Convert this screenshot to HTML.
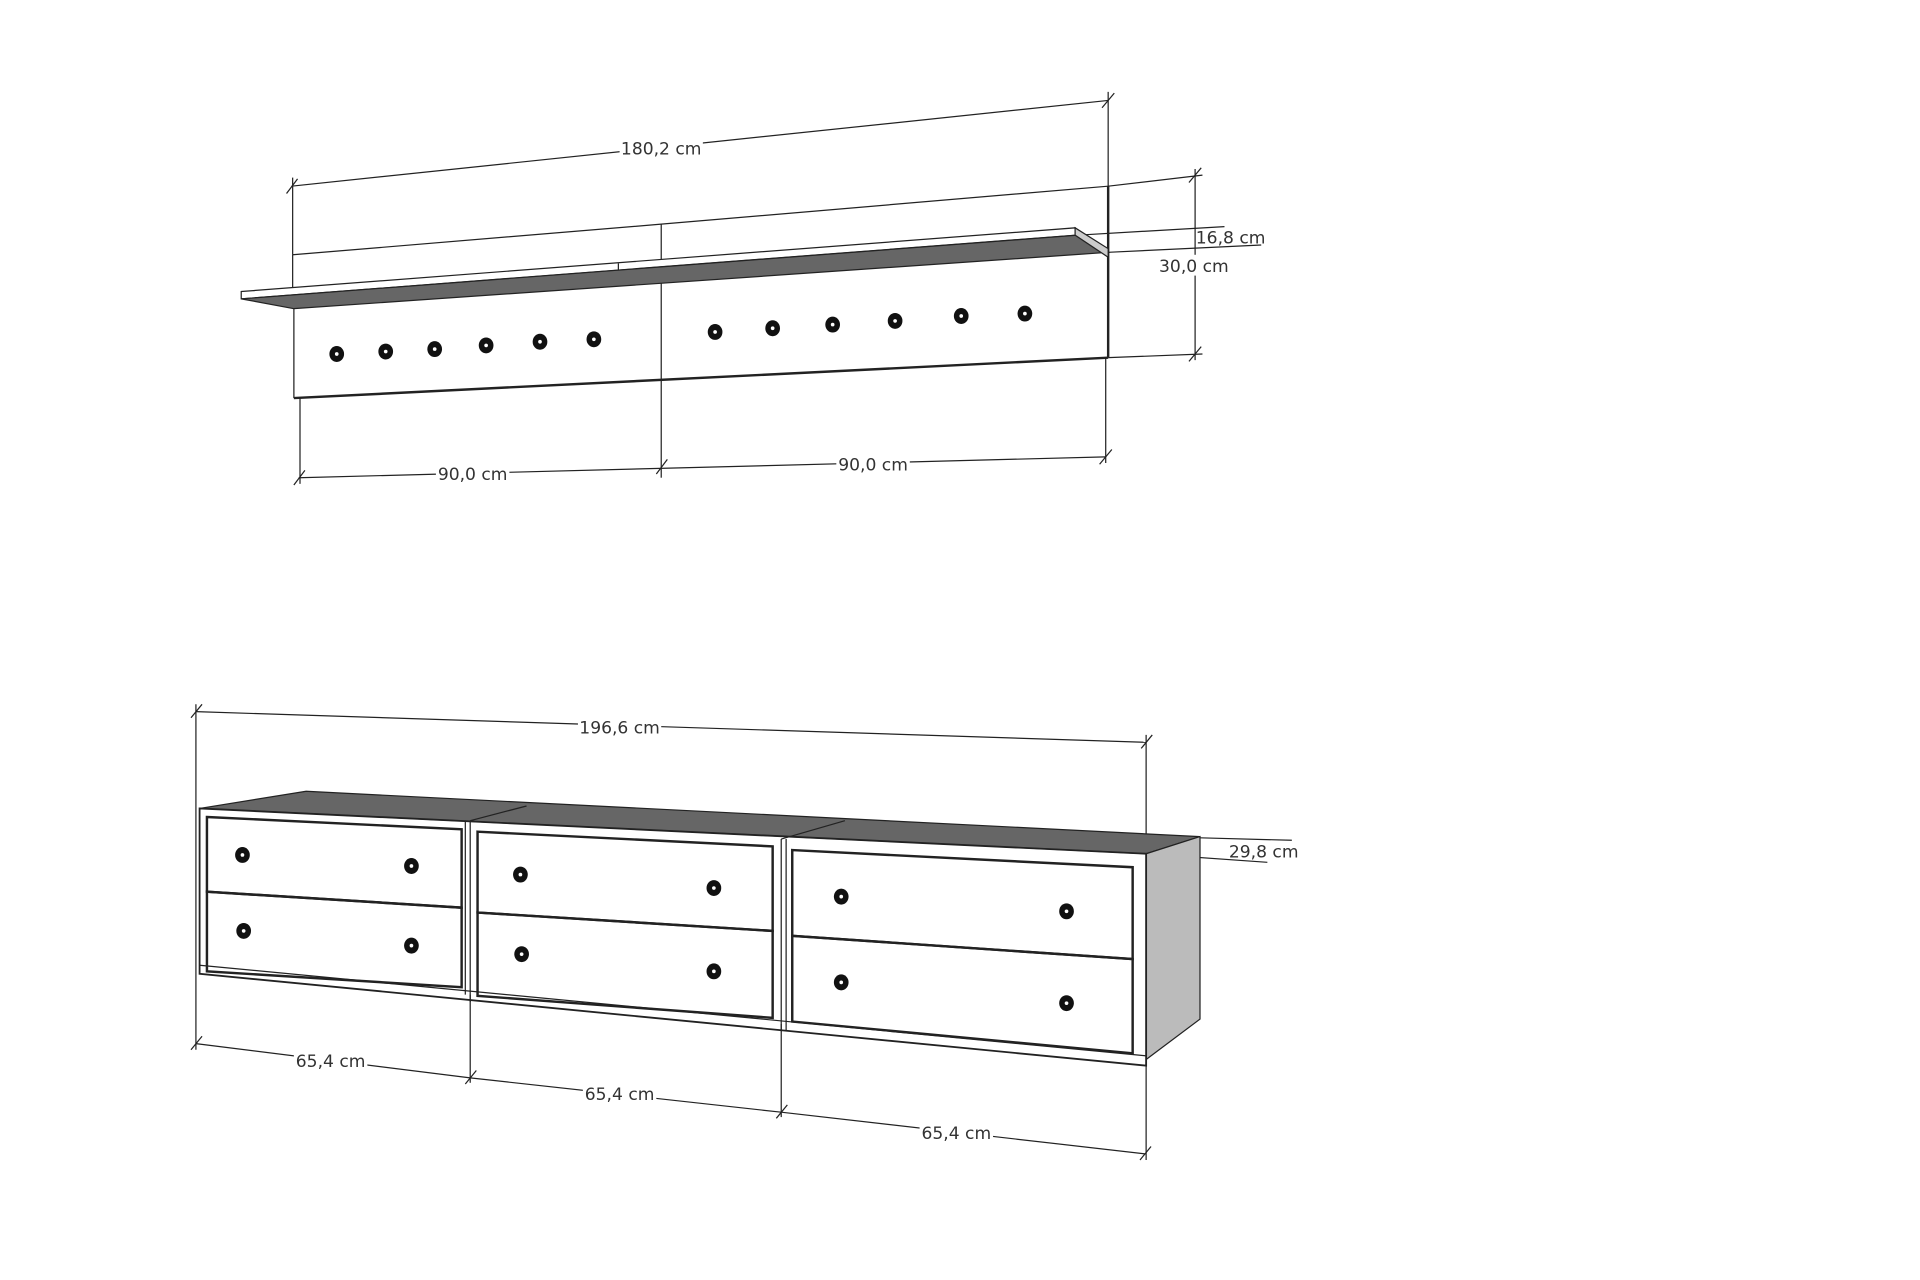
<!DOCTYPE html>
<html><head><meta charset="utf-8"><style>
html,body{margin:0;padding:0;background:#fff;width:1920px;height:1280px;overflow:hidden}
svg{display:block}
text{font-family:"DejaVu Sans","Liberation Sans",sans-serif;font-size:14px;fill:#333}
</style></head><body>
<svg width="1920" height="1280" viewBox="0 0 1568 1045" preserveAspectRatio="none">
<g stroke="#222" stroke-width="1" fill="none">
<line x1="238" y1="152" x2="905" y2="82"/>
<line x1="239" y1="145" x2="239" y2="208"/>
<line x1="905" y1="75" x2="905" y2="152"/>
<line x1="234" y1="158" x2="243" y2="146"/><line x1="900" y1="88" x2="910" y2="76"/>
<line x1="905" y1="152" x2="982" y2="143"/>
<line x1="905" y1="292" x2="982" y2="289"/>
<line x1="976" y1="138" x2="976" y2="294"/>
<line x1="971" y1="149" x2="981" y2="137"/><line x1="971" y1="295" x2="981" y2="283"/>
<line x1="880" y1="192" x2="1000" y2="185"/>
<line x1="905" y1="206" x2="1030" y2="200"/>
<line x1="245" y1="325" x2="245" y2="395"/>
<line x1="540" y1="310" x2="540" y2="390"/>
<line x1="903" y1="292" x2="903" y2="378"/>
<line x1="244" y1="390" x2="903" y2="373"/>
<line x1="240" y1="396" x2="249" y2="384"/><line x1="536" y1="387" x2="545" y2="375"/><line x1="898" y1="379" x2="908" y2="367"/>
<polyline points="239,208 540,183 905,152"/>
<line x1="239" y1="208" x2="239" y2="238" />
<line x1="240" y1="252" x2="240" y2="325"/>
<line x1="240" y1="325" x2="905" y2="292" stroke-width="2"/>
<line x1="540" y1="183" x2="540" y2="310"/>
<line x1="905" y1="152" x2="905" y2="292" stroke-width="2"/>
<polygon points="197,238 878,186 878,192 197,244" fill="#fff"/>
<line x1="505" y1="215" x2="505" y2="224"/>
<polygon points="197,244 240,252 905,206 880,192" fill="#666"/>
<polygon points="878,186 905,203 905,210 878,192" fill="#ccc"/>
<line x1="160" y1="581" x2="936" y2="606"/>
<line x1="160" y1="575" x2="160" y2="857"/>
<line x1="936" y1="600" x2="936" y2="947"/>
<line x1="156" y1="586" x2="165" y2="575"/><line x1="932" y1="611" x2="941" y2="600"/>
<line x1="160" y1="852" x2="384" y2="880"/>
<line x1="384" y1="880" x2="638" y2="908"/>
<line x1="638" y1="908" x2="935" y2="942"/>
<line x1="384" y1="812" x2="384" y2="884"/>
<line x1="638" y1="836" x2="638" y2="912"/>
<line x1="156" y1="857" x2="165" y2="846"/><line x1="380" y1="885" x2="389" y2="874"/><line x1="634" y1="913" x2="643" y2="902"/><line x1="931" y1="947" x2="940" y2="936"/>
<line x1="980" y1="684" x2="1055" y2="686"/>
<line x1="936" y1="697" x2="1035" y2="704"/>
<polygon points="163,660 250,646 980,683 936,697" fill="#666"/>
<line x1="384" y1="670" x2="430" y2="658"/>
<line x1="638" y1="685" x2="690" y2="670"/>
<polygon points="936,697 980,683 980,832 936,865" fill="#bbb"/>
<polygon points="163,660 936,697 936,870 163,795" fill="none" stroke-width="1.5"/>
<line x1="163" y1="788" x2="936" y2="862"/>
<line x1="384" y1="670" x2="384" y2="818"/>
<line x1="638" y1="685" x2="638" y2="842"/>
<line x1="380" y1="670" x2="380" y2="812"/><line x1="642" y1="685" x2="642" y2="842"/>
<g stroke-width="2">
<polygon points="169,667 377,677 377,741 169,728"/>
<polygon points="169,728 377,741 377,806 169,793"/>
<polygon points="390,679 631,691 631,760 390,745"/>
<polygon points="390,745 631,760 631,831 390,813"/>
<polygon points="647,694 925,708 925,783 647,764"/>
<polygon points="647,764 925,783 925,860 647,834"/>
</g>
</g>
<g fill="#111" stroke="none">
<ellipse cx="275" cy="289" rx="6" ry="6.5"/><ellipse cx="315" cy="287" rx="6" ry="6.5"/><ellipse cx="355" cy="285" rx="6" ry="6.5"/><ellipse cx="397" cy="282" rx="6" ry="6.5"/><ellipse cx="441" cy="279" rx="6" ry="6.5"/><ellipse cx="485" cy="277" rx="6" ry="6.5"/>
<ellipse cx="584" cy="271" rx="6" ry="6.5"/><ellipse cx="631" cy="268" rx="6" ry="6.5"/><ellipse cx="680" cy="265" rx="6" ry="6.5"/><ellipse cx="731" cy="262" rx="6" ry="6.5"/><ellipse cx="785" cy="258" rx="6" ry="6.5"/><ellipse cx="837" cy="256" rx="6" ry="6.5"/>
<ellipse cx="198" cy="698" rx="6" ry="6.5"/><ellipse cx="336" cy="707" rx="6" ry="6.5"/><ellipse cx="199" cy="760" rx="6" ry="6.5"/><ellipse cx="336" cy="772" rx="6" ry="6.5"/>
<ellipse cx="425" cy="714" rx="6" ry="6.5"/><ellipse cx="583" cy="725" rx="6" ry="6.5"/><ellipse cx="426" cy="779" rx="6" ry="6.5"/><ellipse cx="583" cy="793" rx="6" ry="6.5"/>
<ellipse cx="687" cy="732" rx="6" ry="6.5"/><ellipse cx="871" cy="744" rx="6" ry="6.5"/><ellipse cx="687" cy="802" rx="6" ry="6.5"/><ellipse cx="871" cy="819" rx="6" ry="6.5"/>
</g>
<g fill="#fff">
<circle cx="275" cy="289" r="1.5"/><circle cx="315" cy="287" r="1.5"/><circle cx="355" cy="285" r="1.5"/><circle cx="397" cy="282" r="1.5"/><circle cx="441" cy="279" r="1.5"/><circle cx="485" cy="277" r="1.5"/>
<circle cx="584" cy="271" r="1.5"/><circle cx="631" cy="268" r="1.5"/><circle cx="680" cy="265" r="1.5"/><circle cx="731" cy="262" r="1.5"/><circle cx="785" cy="258" r="1.5"/><circle cx="837" cy="256" r="1.5"/>
<circle cx="198" cy="698" r="1.5"/><circle cx="336" cy="707" r="1.5"/><circle cx="199" cy="760" r="1.5"/><circle cx="336" cy="772" r="1.5"/>
<circle cx="425" cy="714" r="1.5"/><circle cx="583" cy="725" r="1.5"/><circle cx="426" cy="779" r="1.5"/><circle cx="583" cy="793" r="1.5"/>
<circle cx="687" cy="732" r="1.5"/><circle cx="871" cy="744" r="1.5"/><circle cx="687" cy="802" r="1.5"/><circle cx="871" cy="819" r="1.5"/>
</g>
<g>
<rect x="506" y="112" width="68" height="17" fill="#fff"/><text x="540" y="126" text-anchor="middle">180,2 cm</text>
<rect x="946" y="208" width="60" height="17" fill="#fff"/><text x="975" y="222" text-anchor="middle">30,0 cm</text>
<text x="1005" y="199" text-anchor="middle">16,8 cm</text>
<rect x="356" y="378" width="60" height="17" fill="#fff"/><text x="386" y="392" text-anchor="middle">90,0 cm</text>
<rect x="683" y="370" width="60" height="17" fill="#fff"/><text x="713" y="384" text-anchor="middle">90,0 cm</text>
<rect x="472" y="585" width="68" height="17" fill="#fff"/><text x="506" y="599" text-anchor="middle">196,6 cm</text>
<text x="1032" y="700" text-anchor="middle">29,8 cm</text>
<rect x="240" y="857" width="60" height="17" fill="#fff"/><text x="270" y="871" text-anchor="middle">65,4 cm</text>
<rect x="476" y="884" width="60" height="17" fill="#fff"/><text x="506" y="898" text-anchor="middle">65,4 cm</text>
<rect x="751" y="916" width="60" height="17" fill="#fff"/><text x="781" y="930" text-anchor="middle">65,4 cm</text>
</g>
</svg>
</body></html>
